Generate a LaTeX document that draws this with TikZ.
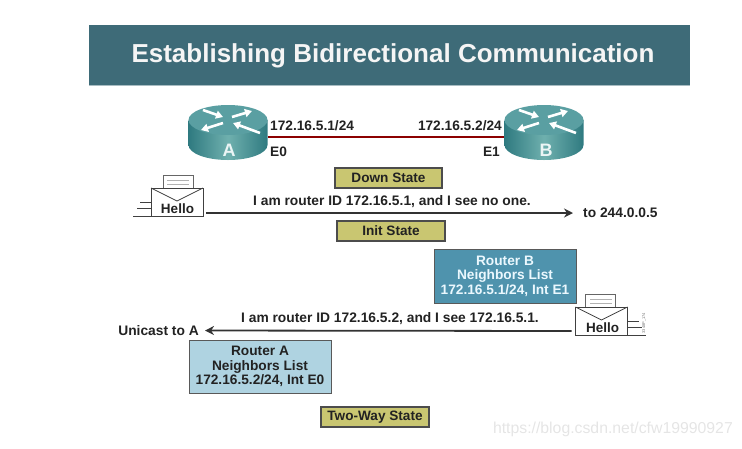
\documentclass[tikz,border=0pt]{standalone}
\usepackage{fontspec}
\setmainfont{Liberation Sans}
\usetikzlibrary{arrows.meta, positioning}

\definecolor{titleteal}{HTML}{3E6B78}
\definecolor{routerdark}{HTML}{2F7A80}
\definecolor{routerlight}{HTML}{6FB0AE}
\definecolor{routertop}{HTML}{5A9FA2}
\definecolor{statefill}{HTML}{C9C671}
\definecolor{listdark}{HTML}{4F93AD}
\definecolor{listpale}{HTML}{AFD3E1}
\definecolor{ink}{HTML}{222222}

\begin{document}
\begin{tikzpicture}[
    x=1pt, y=-1pt,
    banner/.style={rectangle, fill=titleteal, minimum width=601pt, minimum height=60pt, inner sep=0pt},
    heading/.style={inner sep=0pt, font=\fontsize{26}{28}\selectfont\bfseries, text=white!96!black},
    routernode/.style={rectangle, minimum width=79pt, minimum height=46pt, inner sep=0pt, outer sep=0pt},
    routerlabel/.style={font=\fontsize{18}{20}\selectfont\bfseries, text=white!92!teal, inner sep=0pt},
    iface/.style={font=\fontsize{13.7}{15}\selectfont\bfseries, text=ink, inner sep=0pt},
    msgtext/.style={font=\fontsize{13.8}{15}\selectfont\bfseries, text=ink, inner sep=0pt},
    statebox/.style={rectangle, draw=black!70, fill=statefill, line width=1.2pt, minimum width=107pt, minimum height=20pt, inner sep=0pt, font=\fontsize{13.6}{15}\selectfont\bfseries, text=ink},
    listbox/.style={rectangle, draw=black!65, line width=1pt, minimum width=142pt, minimum height=54pt, inner sep=0pt, align=center, font=\fontsize{13.7}{14.5}\selectfont\bfseries},
    envelope/.style={rectangle, draw=black!75, fill=white, line width=0.8pt, minimum width=52pt, minimum height=28pt, inner sep=0pt, outer sep=0pt},
    hellotext/.style={font=\fontsize{13.5}{15}\selectfont\bfseries, text=ink, inner sep=0pt},
    link/.style={draw=red!55!black, line width=2pt},
    msgline/.style={draw=black!80, line width=1.8pt, -{Stealth[length=9pt,width=9pt]}},
    pics/routershape/.style={code={
        \path[left color=routerdark, right color=routerdark, middle color=routerlight]
            (-39.5,-17) -- (-39.5,8) arc (180:0:39.5 and 15) -- (39.5,-17) -- cycle;
        \path[fill=routertop] (0,-17) ellipse (39.5 and 15);
        \foreach \fromx/\fromy/\tox/\toy in {-25/-27/-5/-20, 4/-20/24/-26, -5/-14/-27/-7, 32/-4/5/-14}
            \draw[white, line width=2.6pt, -{Triangle[length=7pt,width=8pt]}] (\fromx,\fromy) -- (\tox,\toy);
    }},
    pics/speedlines/.style={code={
        \draw[black!75, line width=0.8pt] (-26,-14) -- (-37,-14) (-26,-8) -- (-40,-8) (-26,-0) -- (-44,-0);
        \draw[black!60, fill=white, line width=0.7pt] (-14,-28) rectangle (16,-41);
        \draw[black!30, line width=0.6pt] (-10,-36) -- (12,-36) (-10,-32) -- (12,-32);
    }}
]
\useasboundingbox (0,0) rectangle (742,448);

% Title
\node[banner] (bar) at (389.5,55) {};
\draw[titleteal!45!white, line width=0.8pt] (bar.south west) -- (bar.south east);
\node[heading] (title) at (393,56) {Establishing Bidirectional Communication};

% Routers
\node[routernode] (routerA) at (228,137) {};
\node[routernode] (routerB) at (544,137) {};
\draw[link] (routerA.east) -- (routerB.west);
\pic at (routerA) {routershape};
\pic at (routerB) {routershape};
\node[routerlabel] (nameA) at (229,150) {A};
\node[routerlabel] (nameB) at (546,150) {B};

% Interfaces
\node[iface, anchor=west] (addrA) at (270,126) {172.16.5.1/24};
\node[iface, anchor=east] (addrB) at (502,126) {172.16.5.2/24};
\node[iface, anchor=west] (portA) at (270,152) {E0};
\node[iface, anchor=east] (portB) at (500,152) {E1};

% States
\node[statebox] (down) at (388.5,178) {Down State};
\node[statebox, minimum width=108pt] (init) at (391,231) {Init State};
\node[statebox, minimum width=108pt] (twoway) at (375,417) {Two-Way State};

% Neighbor lists
\node[listbox, fill=listdark, text=white!92!cyan] (listB) at (505,276) {Router B\\Neighbors List\\172.16.5.1/24, Int E1};
\node[listbox, fill=listpale, text=ink, minimum height=53pt] (listA) at (260,366.5) {Router A\\Neighbors List\\172.16.5.2/24, Int E0};

% Hello from A
\pic at (177,216) {speedlines};
\node[envelope] (mailA) at (177,202) {};
\draw[black!75, line width=0.8pt] (mailA.north west) -- ([yshift=-13pt]mailA.north) -- (mailA.north east);
\node[hellotext] (helloA) at (177.5,209) {Hello};
\node[msgtext, anchor=west] (dest) at (583,213) {to 244.0.0.5};
\draw[msgline, shorten >=10pt] ([xshift=3pt,yshift=-11pt]mailA.east) -- (dest.west);
\node[msgtext] (textA) at (392,202) {I am router ID 172.16.5.1, and I see no one.};

% Hello from B
\pic[xscale=-1] at (601.5,335) {speedlines};
\node[envelope] (mailB) at (601.5,321) {};
\draw[black!75, line width=0.8pt] (mailB.north west) -- ([yshift=-13pt]mailB.north) -- (mailB.north east);
\node[hellotext] (helloB) at (602.5,327.5) {Hello};
\node[msgtext, anchor=east] (uni) at (199,330.5) {Unicast to A};
\draw[msgline, shorten >=6pt] ([xshift=-4pt,yshift=-10pt]mailB.west) -- (uni.east);
\node[msgtext] (textB) at (390,319) {I am router ID 172.16.5.2, and I see 172.16.5.1.};
\node[rotate=90, inner sep=0pt, text=black!55, font=\fontsize{4}{5}\selectfont] (code) at (644,323) {3348P\_174};

% Watermark
\node[inner sep=0pt, anchor=east, text=black!10, font=\fontsize{15.8}{17}\selectfont] (mark) at (733,429) {https://blog.csdn.net/cfw19990927};

\end{tikzpicture}
\end{document}
